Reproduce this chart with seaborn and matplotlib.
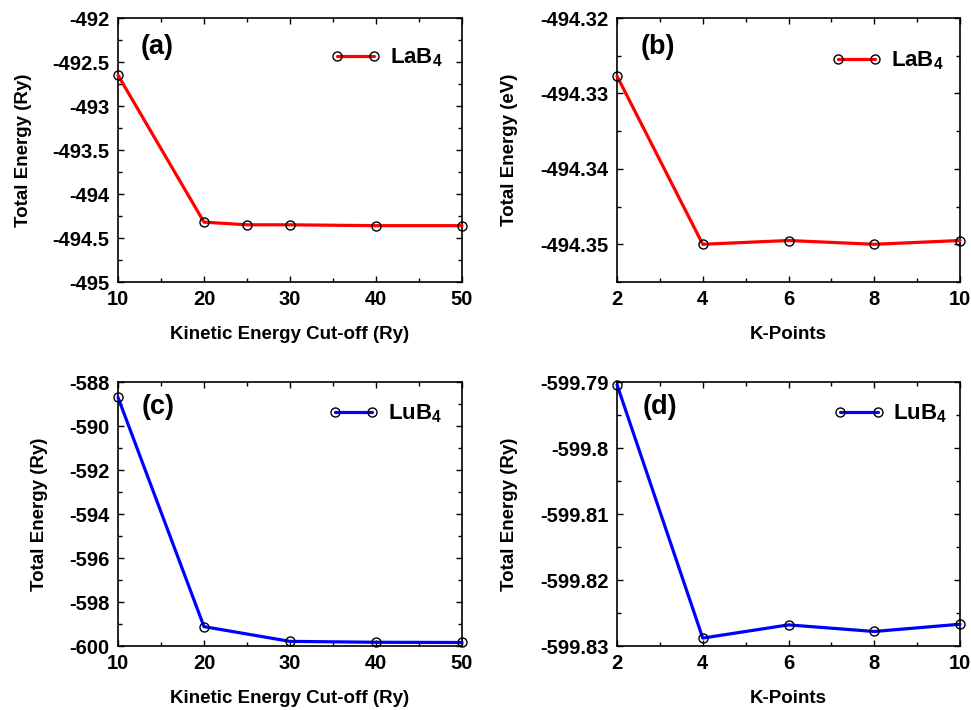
import matplotlib
matplotlib.use("Agg")
import matplotlib.pyplot as plt
import seaborn as sns
import numpy as np
import pandas as pd
from matplotlib.ticker import MultipleLocator, AutoMinorLocator, FuncFormatter

# Convergence data
cutoff_la = [10, 20, 25, 30, 40, 50]
energy_cutoff_la = [-492.65, -494.32, -494.35, -494.35, -494.36, -494.36]

kpts_la = [2, 4, 6, 8, 10]
energy_kpts_la = [-494.3277, -494.3500, -494.3495, -494.3500, -494.3495]

cutoff_lu = [10, 20, 30, 40, 50]
energy_cutoff_lu = [-588.70, -599.12, -599.79, -599.83, -599.84]

kpts_lu = [2, 4, 6, 8, 10]
energy_kpts_lu = [-599.7904, -599.8288, -599.8268, -599.8278, -599.8267]

panel_tags = ["(a)", "(b)", "(c)", "(d)"]
series_labels = ["LaB$_4$", "LaB$_4$", "LuB$_4$", "LuB$_4$"]
x_titles = ["Kinetic Energy Cut-off (Ry)", "K-Points",
            "Kinetic Energy Cut-off (Ry)", "K-Points"]
y_titles = ["Total Energy (Ry)", "Total Energy (eV)",
            "Total Energy (Ry)", "Total Energy (Ry)"]

sns.set_style("ticks")
plt.rcParams["font.family"] = ["Liberation Sans", "DejaVu Sans"]
plt.rcParams["font.weight"] = "bold"
plt.rcParams["axes.labelweight"] = "bold"
plt.rcParams["axes.unicode_minus"] = False
plt.rcParams["text.color"] = "black"
plt.rcParams["axes.labelcolor"] = "black"
plt.rcParams["xtick.color"] = "black"
plt.rcParams["ytick.color"] = "black"
plt.rcParams["mathtext.fontset"] = "custom"
plt.rcParams["mathtext.rm"] = "Liberation Sans:bold"
plt.rcParams["mathtext.bf"] = "Liberation Sans:bold"
plt.rcParams["mathtext.it"] = "Liberation Sans:bold"
plt.rcParams["mathtext.default"] = "rm"

fig = plt.figure(figsize=(9.71, 7.10), dpi=100)

W, H = 971.0, 710.0
boxes = [(118, 18, 462, 282), (617, 18, 960, 282),
         (118, 382, 462, 646), (617, 382, 960, 646)]
axes = []
for (l, t, r, b) in boxes:
    axes.append(fig.add_axes([l / W, 1 - b / H, (r - l) / W, (b - t) / H]))

datasets = [
    (cutoff_la, energy_cutoff_la, "red"),
    (kpts_la, energy_kpts_la, "red"),
    (cutoff_lu, energy_cutoff_lu, "blue"),
    (kpts_lu, energy_kpts_lu, "blue"),
]

xlims = [(10, 50), (2, 10), (10, 50), (2, 10)]
ylims = [(-495, -492), (-494.355, -494.32), (-600, -588), (-599.83, -599.79)]
xmajor = [10, 2, 10, 2]
ymajor = [0.5, 0.01, 2, 0.01]

tag_pos = [(0.113, 0.89), (0.12, 0.89), (0.116, 0.905), (0.125, 0.905)]
leg_pos = [(0.616, 0.85), (0.624, 0.837), (0.610, 0.879), (0.630, 0.879)]
ylab_x = [-0.276, -0.312, -0.227, -0.312]

fmt = FuncFormatter(lambda v, p: "%g" % round(v, 6))

for i, ax in enumerate(axes):
    xs, ys, col = datasets[i]
    df = pd.DataFrame({"x": xs, "y": ys})
    sns.lineplot(data=df, x="x", y="y", ax=ax, color=col, lw=2.3,
                 marker="o", markersize=6.5, markerfacecolor="none",
                 markeredgecolor="black", markeredgewidth=1.0,
                 label=series_labels[i], clip_on=False, zorder=3)
    ax.set_xlim(*xlims[i])
    ax.set_ylim(*ylims[i])
    ax.xaxis.set_major_locator(MultipleLocator(xmajor[i]))
    ax.yaxis.set_major_locator(MultipleLocator(ymajor[i]))
    ax.xaxis.set_minor_locator(AutoMinorLocator(2))
    ax.yaxis.set_minor_locator(AutoMinorLocator(2))
    ax.yaxis.set_major_formatter(fmt)
    ax.xaxis.set_major_formatter(fmt)
    ax.tick_params(which="both", direction="in", top=True, right=True,
                   labelsize=14.5, width=1.0, colors="black")
    ax.tick_params(which="major", length=4, pad=6)
    ax.tick_params(which="minor", length=3)
    for s in ax.spines.values():
        s.set_linewidth(1.2)
        s.set_color("black")
    ax.set_xlabel(x_titles[i], fontsize=13.5, fontweight="bold")
    ax.set_ylabel(y_titles[i], fontsize=13.5, fontweight="bold")
    ax.xaxis.set_label_coords(0.5, -0.20)
    ax.xaxis.label.set_va("center")
    ax.yaxis.set_label_coords(ylab_x[i], 0.5)
    ax.yaxis.label.set_va("center")
    ax.text(tag_pos[i][0], tag_pos[i][1], panel_tags[i], transform=ax.transAxes,
            ha="center", va="center", fontsize=19.5, fontweight="bold")
    ax.legend(loc="center left", bbox_to_anchor=leg_pos[i], frameon=False,
              fontsize=16, numpoints=2, handlelength=2.3, handletextpad=0.4,
              borderpad=0, borderaxespad=0)

fig.savefig("out.png", dpi=100)
